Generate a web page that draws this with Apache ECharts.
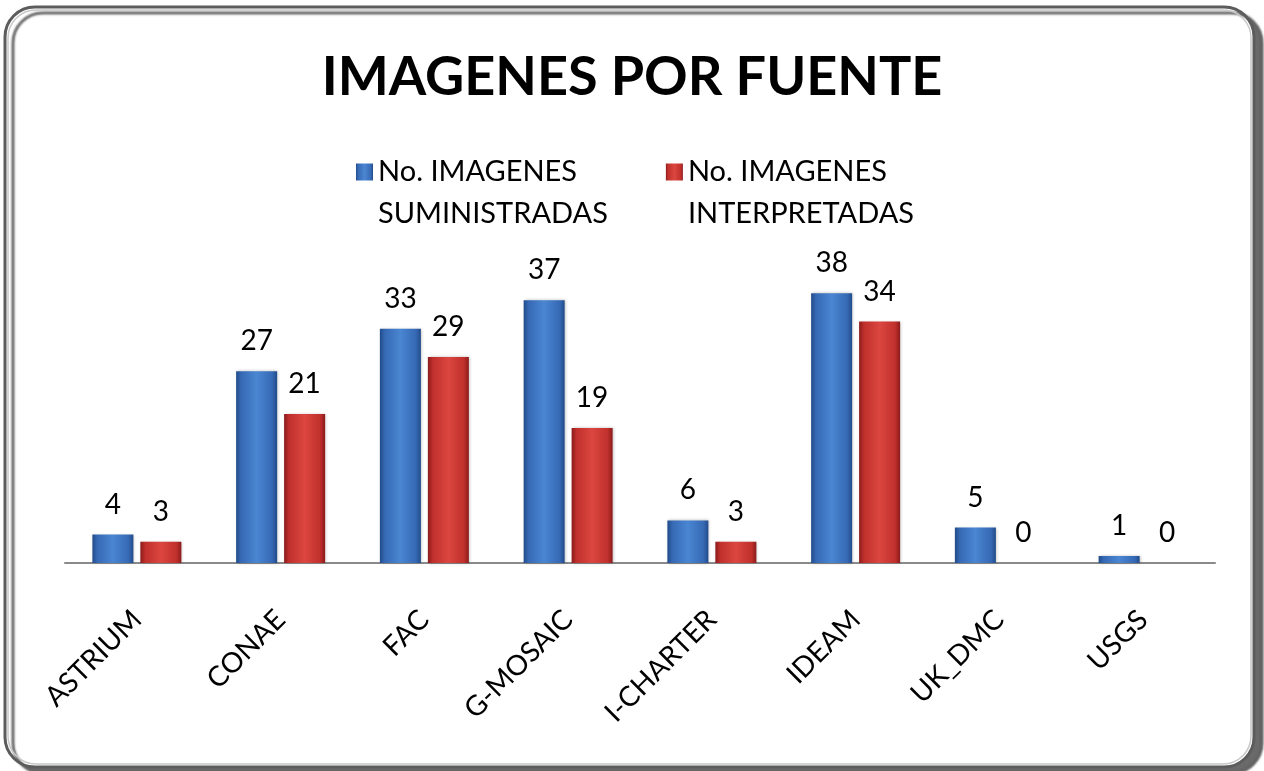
<!DOCTYPE html>
<html>
<head>
<meta charset="utf-8">
<script src="https://cdn.jsdelivr.net/npm/echarts@6/dist/echarts.min.js"></script>
<style>
  html, body { margin: 0; padding: 0; background: #fff; }
  #chart { width: 1264px; height: 771px; }
</style>
</head>
<body>
<div id="chart"></div>
<script>
const categories = ['ASTRIUM', 'CONAE', 'FAC', 'G-MOSAIC', 'I-CHARTER', 'IDEAM', 'UK_DMC', 'USGS']
const suministradas = [4, 27, 33, 37, 6, 38, 5, 1]
const interpretadas = [3, 21, 29, 19, 3, 34, 0, 0]
const seriesNames = ['No. IMAGENES\nSUMINISTRADAS', 'No. IMAGENES\nINTERPRETADAS']

const FONT = 'Lato, "Open Sans", sans-serif'

// degradado horizontal para simular el efecto 3D de Excel
const barGradient = (edge, mid, light) => new echarts.graphic.LinearGradient(0, 0, 1, 0, [
  { offset: 0, color: edge },
  { offset: 0.12, color: mid },
  { offset: 0.5, color: light },
  { offset: 0.88, color: mid },
  { offset: 1, color: edge }
])

const chart = echarts.init(document.getElementById('chart'))

const labelStyle = {
  show: true,
  position: 'top',
  distance: 16,
  fontFamily: FONT,
  fontSize: 28,
  color: '#000'
}

chart.setOption({
  backgroundColor: '#fff',
  graphic: [{
    type: 'rect',
    z: -10,
    shape: { x: 5, y: 7, width: 1249, height: 760, r: 30 },
    style: {
      fill: '#fff',
      stroke: '#5c5c5c',
      lineWidth: 3,
      shadowColor: 'rgba(80,80,80,0.85)',
      shadowOffsetX: 8,
      shadowOffsetY: 6,
      shadowBlur: 2
    }
  }, {
    type: 'rect',
    z: -9,
    shape: { x: 8, y: 10, width: 1243, height: 754, r: 28 },
    style: { fill: 'none', stroke: '#c8c8c8', lineWidth: 1.5 }
  }],
  title: {
    text: 'IMAGENES POR FUENTE',
    left: 'center',
    top: 46,
    textStyle: { fontFamily: FONT, fontSize: 54, fontWeight: 'bold', color: '#000' }
  },
  legend: {
    data: seriesNames,
    left: 351,
    top: 104,
    itemWidth: 17,
    itemHeight: 17,
    itemGap: 58,
    icon: 'rect',
    // línea vacía al principio para que el icono quede a la altura de la primera línea
    formatter: name => '\n' + name,
    textStyle: {
      fontFamily: FONT,
      fontSize: 29,
      lineHeight: 42,
      color: '#000'
    }
  },
  grid: { left: 65, right: 49, top: 279, bottom: 208 },
  xAxis: {
    type: 'category',
    data: categories,
    axisLine: { lineStyle: { color: '#8a8a8a', width: 2 } },
    axisTick: { show: false },
    axisLabel: {
      interval: 0,
      rotate: 45,
      margin: 52,
      fontFamily: FONT,
      fontSize: 28,
      color: '#000'
    }
  },
  yAxis: {
    type: 'value',
    min: 0,
    max: 40,
    show: false,
    splitLine: { show: false }
  },
  series: [{
    name: seriesNames[0],
    type: 'bar',
    data: suministradas,
    barWidth: 41,
    barGap: '17%',
    itemStyle: {
      color: barGradient('#214b8a', '#3669b4', '#4a86d2'),
      shadowColor: 'rgba(0,0,0,0.25)',
      shadowBlur: 3,
      shadowOffsetX: 1
    },
    label: labelStyle
  }, {
    name: seriesNames[1],
    type: 'bar',
    data: interpretadas,
    barWidth: 41,
    itemStyle: {
      color: barGradient('#8a1b1b', '#c0302c', '#dc4640'),
      shadowColor: 'rgba(0,0,0,0.25)',
      shadowBlur: 3,
      shadowOffsetX: 1
    },
    label: labelStyle
  }]
})
</script>
</body>
</html>
